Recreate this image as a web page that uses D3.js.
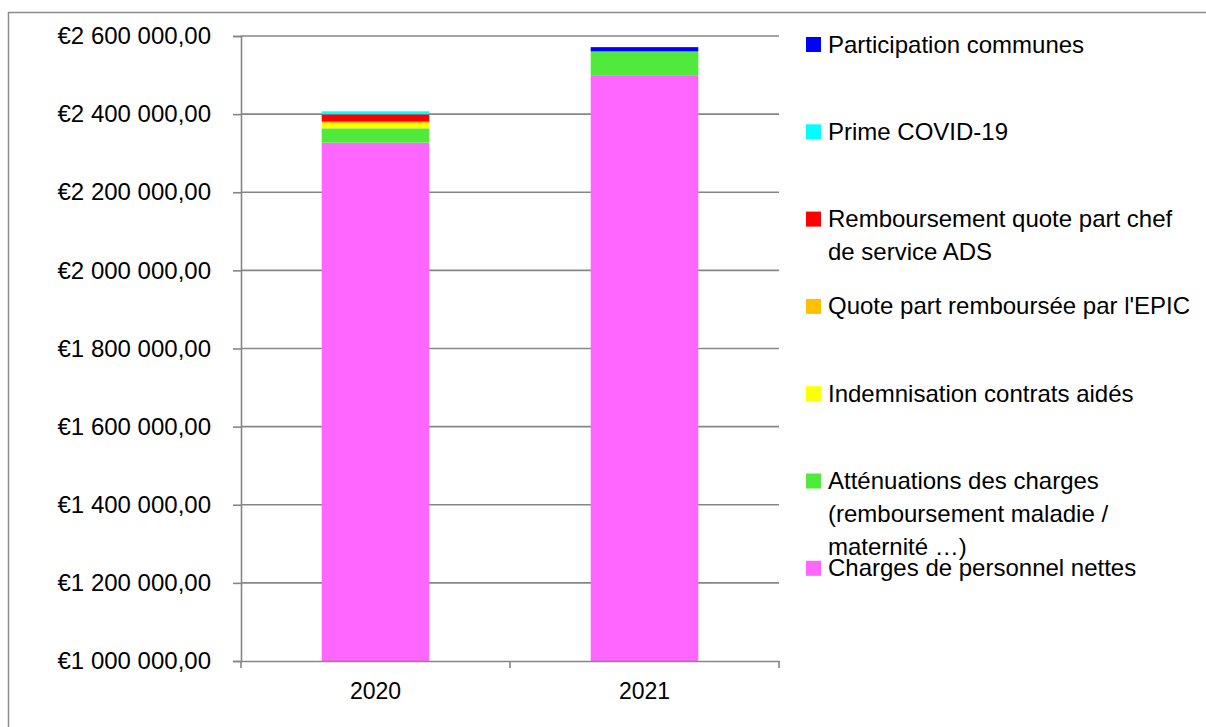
<!DOCTYPE html>
<html lang="fr">
<head>
  <meta charset="UTF-8">
  <title>Charges de personnel</title>
  <script src="https://cdn.jsdelivr.net/npm/d3@7"></script>
  <style>
    body { margin: 0; background: #fff; }
    text { font-family: "Liberation Sans", Arial, sans-serif; fill: #000; }
  </style>
</head>
<body>
  <script>
    var w = 1206
    var h = 727

    // données
    var years = ['2020', '2021']
    var chargesNettes = [2327000, 2498000]
    var attenuations = [36600, 62500]
    var contratsAides = [12800, 0]
    var quotePartEpic = [4400, 0]
    var remboursementAds = [18700, 0]
    var primeCovid = [7700, 0]
    var participationCommunes = [0, 11000]

    var seriesNames = ['Charges de personnel nettes',
      'Atténuations des charges (remboursement maladie / maternité …)',
      'Indemnisation contrats aidés',
      "Quote part remboursée par l'EPIC",
      'Remboursement quote part chef de service ADS',
      'Prime COVID-19',
      'Participation communes']
    var seriesValues = [chargesNettes, attenuations, contratsAides, quotePartEpic,
      remboursementAds, primeCovid, participationCommunes]
    var colors = ['#FF66FF', '#50EA3C', '#FFFF00', '#FFC000', '#FF0000', '#00FFFF', '#0000FF']
    var yTicks = [1000000, 1200000, 1400000, 1600000, 1800000, 2000000, 2200000, 2400000, 2600000]

    var keys = d3.range(seriesNames.length)
    var table = years.map(function (y, i) {
      var row = { year: y }
      keys.forEach(function (k) { row[k] = seriesValues[k][i] })
      return row
    })
    var stacked = d3.stack().keys(keys)(table)

    var plotLeft = 241, plotRight = 779, plotTop = 36, plotBottom = 661

    var xScale = d3.scaleBand().domain(years).range([plotLeft, plotRight]).paddingInner(0.6).paddingOuter(0.3)
    var yScale = d3.scaleLinear().domain([1000000, 2600000]).range([plotBottom, plotTop]).clamp(true)

    var svg = d3.select('body').append('svg').attr('width', w).attr('height', h)

    // cadre
    svg.append('rect').attr('x', 8.5).attr('y', 12.5).attr('width', 1210).attr('height', 730)
      .attr('fill', 'none').attr('stroke', '#8c8c8c').attr('stroke-width', 1.5)

    // grille
    svg.append('g').selectAll('line').data(yTicks.slice(1)).enter().append('line')
      .attr('x1', plotLeft).attr('x2', plotRight)
      .attr('y1', function (d) { return yScale(d) }).attr('y2', function (d) { return yScale(d) })
      .attr('stroke', '#868686').attr('stroke-width', 1.6)

    // barres
    svg.append('g').selectAll('g').data(stacked).enter().append('g')
      .attr('fill', function (d) { return colors[d.key] })
      .selectAll('rect').data(function (d) { return d }).enter().append('rect')
      .attr('x', function (d) { return xScale(d.data.year) })
      .attr('width', xScale.bandwidth())
      .attr('y', function (d) { return yScale(d[1]) })
      .attr('height', function (d) { return yScale(d[0]) - yScale(d[1]) })

    // axe y
    var yAxis = d3.axisLeft(yScale).tickValues(yTicks).tickSize(8).tickPadding(22)
      .tickFormat(function (d) { return '€' + d3.format(',.2f')(d).replace(/,/g, ' ').replace('.', ',') })
    var gy = svg.append('g').attr('transform', 'translate(' + plotLeft + ',0)').call(yAxis)
    gy.select('.domain').attr('stroke', '#868686').attr('stroke-width', 1.6)
    gy.selectAll('.tick line').attr('stroke', '#868686').attr('stroke-width', 1.6)
    gy.selectAll('text').attr('font-size', '24px').attr('font-family', '"Liberation Sans", Arial, sans-serif')

    // axe x
    var xAxis = d3.axisBottom(xScale).tickSize(0).tickPadding(22)
    var gx = svg.append('g').attr('transform', 'translate(0,' + plotBottom + ')').call(xAxis)
    gx.select('.domain').attr('stroke', '#868686').attr('stroke-width', 1.6)
    gx.selectAll('text').attr('font-size', '23px').attr('font-family', '"Liberation Sans", Arial, sans-serif')
    gx.selectAll('line.sep').data([plotLeft, (plotLeft + plotRight) / 2, plotRight]).enter().append('line')
      .attr('class', 'sep')
      .attr('x1', function (d) { return d }).attr('x2', function (d) { return d })
      .attr('y1', 0).attr('y2', 7)
      .attr('stroke', '#868686').attr('stroke-width', 1.6)

    // légende
    var legendOrder = keys.slice().reverse()
    var legend = svg.append('g').selectAll('g').data(legendOrder).enter().append('g')
      .attr('transform', function (d, i) { return 'translate(806,' + (44.5 + i * 87.3) + ')' })
    legend.append('rect').attr('x', 0).attr('y', -7.5).attr('width', 15).attr('height', 15)
      .attr('fill', function (d) { return colors[d] })
    legend.append('text').attr('x', 22).attr('y', 8).attr('font-size', '24px')
      .each(function (d) {
        var t = d3.select(this)
        var words = seriesNames[d].split(' ')
        var line = []
        var tspan = t.append('tspan').attr('x', 22).attr('dy', 0)
        words.forEach(function (word) {
          line.push(word)
          tspan.text(line.join(' '))
          if (tspan.node().getComputedTextLength() > 372 && line.length > 1) {
            line.pop()
            tspan.text(line.join(' '))
            line = [word]
            tspan = t.append('tspan').attr('x', 22).attr('dy', 33).text(word)
          }
        })
      })
  </script>
</body>
</html>
